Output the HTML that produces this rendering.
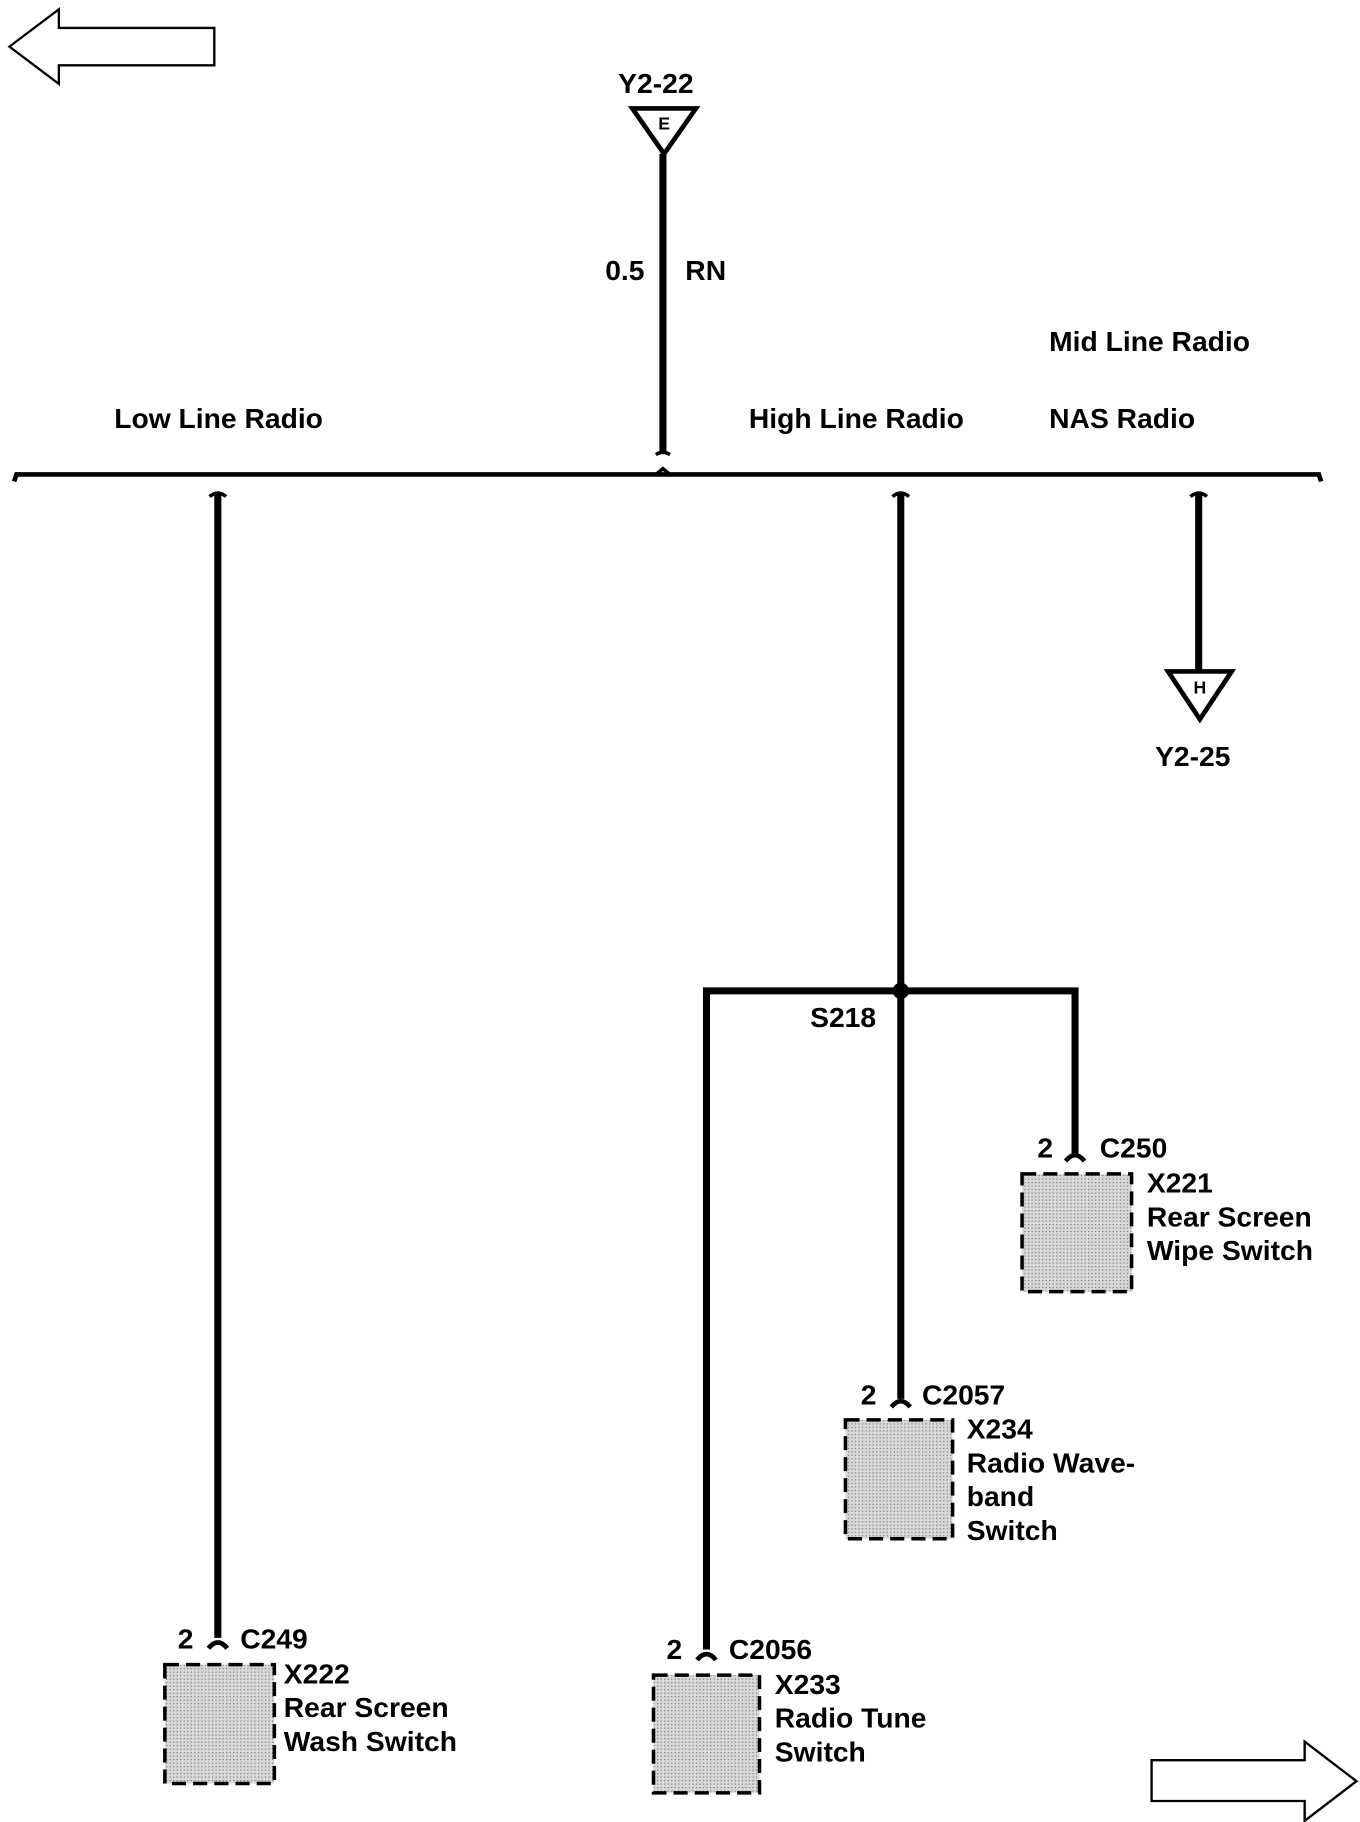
<!DOCTYPE html>
<html><head><meta charset="utf-8"><style>
html,body{margin:0;padding:0;background:#fff;}
svg{display:block;}
text{font-family:"Liberation Sans",Arial,sans-serif;font-weight:bold;fill:#000;font-size:24px;}
</style></head><body>
<svg width="1360" height="1822" viewBox="0 0 1155 1563" preserveAspectRatio="none" xmlns="http://www.w3.org/2000/svg">
<defs>
<pattern id="dots" width="3" height="3" patternUnits="userSpaceOnUse">
<rect width="3" height="3" fill="#d8d8d8"/><rect width="1" height="1" fill="#777"/>
</pattern>
</defs>
<polygon points="8,40 50,8 50,24 182,24 182,56 50,56 50,72" fill="#fff" stroke="#000" stroke-width="2"/>
<polygon points="978,1510 1108,1510 1108,1494 1152,1528 1108,1562 1108,1545 978,1545" fill="#fff" stroke="#000" stroke-width="2"/>

<text x="557" y="80" text-anchor="middle">Y2-22</text>
<polygon points="537,93 591,93 564,132" fill="#fff" stroke="#000" stroke-width="4"/>
<text x="564" y="111" text-anchor="middle" style="font-size:15px">E</text>
<line x1="563" y1="132" x2="563" y2="388" stroke="#000" stroke-width="6"/>
<path d="M557,390 q6,-4 12,0" fill="none" stroke="#000" stroke-width="3"/>
<text x="514" y="240">0.5</text>
<text x="582" y="240">RN</text>

<text x="891" y="301">Mid Line Radio</text>
<text x="891" y="367">NAS Radio</text>
<text x="97" y="367">Low Line Radio</text>
<text x="636" y="367">High Line Radio</text>

<path d="M12,413 L14,407 L1120,407 L1122,413" fill="none" stroke="#000" stroke-width="4"/>
<path d="M557,407 l6,-5 l6,5" fill="none" stroke="#000" stroke-width="3"/>

<path d="M178,426 q7,-6 14,0" fill="none" stroke="#000" stroke-width="3"/>
<line x1="185" y1="424" x2="185" y2="1405" stroke="#000" stroke-width="6"/>
<path d="M758,426 q7,-6 14,0" fill="none" stroke="#000" stroke-width="3"/>
<line x1="765" y1="424" x2="765" y2="1200" stroke="#000" stroke-width="6"/>
<path d="M1011,426 q7,-6 14,0" fill="none" stroke="#000" stroke-width="3"/>
<line x1="1018" y1="424" x2="1018" y2="575" stroke="#000" stroke-width="6"/>
<polygon points="992,576 1046,576 1019,617" fill="#fff" stroke="#000" stroke-width="4"/>
<text x="1019" y="595" text-anchor="middle" style="font-size:15px">H</text>
<text x="1013" y="657" text-anchor="middle">Y2-25</text>

<path d="M600,1415 L600,850 L913,850 L913,990" fill="none" stroke="#000" stroke-width="6"/>
<circle cx="765" cy="850" r="7" fill="#000"/>
<text x="688" y="881">S218</text>

<path d="M177,1414 q8,-10 16,0" fill="none" stroke="#000" stroke-width="4"/>
<path d="M592,1424 q8,-10 16,0" fill="none" stroke="#000" stroke-width="4"/>
<path d="M757,1207 q8,-10 16,0" fill="none" stroke="#000" stroke-width="4"/>
<path d="M905,996 q8,-10 16,0" fill="none" stroke="#000" stroke-width="4"/>

<rect x="140" y="1428" width="93" height="102" fill="url(#dots)" stroke="#000" stroke-width="3" stroke-dasharray="12,6"/>
<rect x="555" y="1437" width="90" height="101" fill="url(#dots)" stroke="#000" stroke-width="3" stroke-dasharray="12,6"/>
<rect x="718" y="1218" width="91" height="102" fill="url(#dots)" stroke="#000" stroke-width="3" stroke-dasharray="12,6"/>
<rect x="868" y="1007" width="93" height="101" fill="url(#dots)" stroke="#000" stroke-width="3" stroke-dasharray="12,6"/>

<text x="151" y="1414">2</text><text x="204" y="1414">C249</text>
<text x="241" y="1444">X222</text><text x="241" y="1473">Rear Screen</text><text x="241" y="1502">Wash Switch</text>

<text x="566" y="1423">2</text><text x="619" y="1423">C2056</text>
<text x="658" y="1453">X233</text><text x="658" y="1482">Radio Tune</text><text x="658" y="1511">Switch</text>

<text x="731" y="1205">2</text><text x="783" y="1205">C2057</text>
<text x="821" y="1234">X234</text><text x="821" y="1263">Radio Wave-</text><text x="821" y="1292">band</text><text x="821" y="1321">Switch</text>

<text x="881" y="993">2</text><text x="934" y="993">C250</text>
<text x="974" y="1023">X221</text><text x="974" y="1052">Rear Screen</text><text x="974" y="1081">Wipe Switch</text>
</svg>
</body></html>
